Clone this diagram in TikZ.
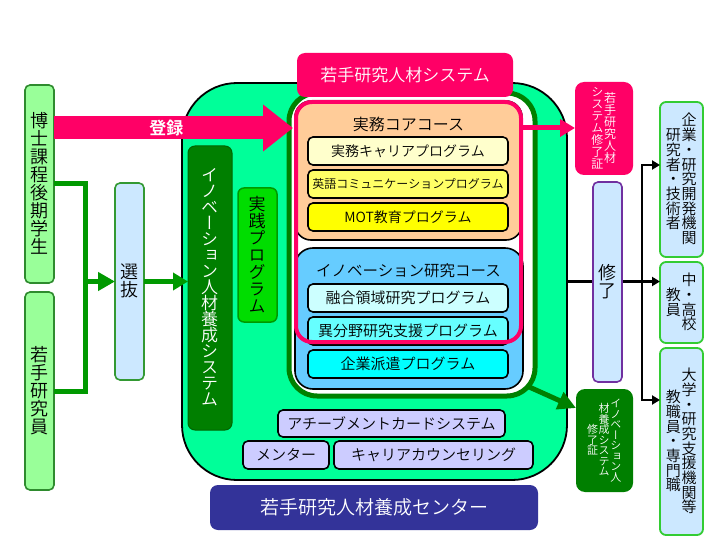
\documentclass[tikz,border=0pt]{standalone}
\usepackage{fontspec}
\IfFontExistsTF{Noto Sans CJK JP DemiLight}
  {\def\jpname{Noto Sans CJK JP DemiLight}}
  {\def\jpname{Noto Sans CJK JP}}
\setmainfont{\jpname}[BoldFont={Noto Sans CJK JP Bold}]
\newfontfamily\vjp[RawFeature=+vert]{\jpname}
\usetikzlibrary{arrows.meta, positioning}
\definecolor{MintG}{HTML}{00FF99}
\definecolor{DkG}{HTML}{007F00}
\definecolor{FrameG}{HTML}{008000}
\definecolor{LineG}{HTML}{009900}
\definecolor{PracG}{HTML}{00DD00}
\definecolor{Peach}{HTML}{FFCC99}
\definecolor{Cream}{HTML}{FFFFCC}
\definecolor{LemonA}{HTML}{FFFF66}
\definecolor{LemonB}{HTML}{FFFF00}
\definecolor{SkyB}{HTML}{66CCFF}
\definecolor{CyanA}{HTML}{CCFFFF}
\definecolor{CyanB}{HTML}{66FFFF}
\definecolor{CyanC}{HTML}{00FFFF}
\definecolor{Lav}{HTML}{CCCCFF}
\definecolor{Navy}{HTML}{333399}
\definecolor{Pink}{HTML}{FF0066}
\definecolor{PaleG}{HTML}{99FF99}
\definecolor{LeafG}{HTML}{2E8B2E}
\definecolor{IceB}{HTML}{CCE8FF}
\definecolor{SelG}{HTML}{339933}
\definecolor{OutG}{HTML}{33CC33}
\definecolor{Purp}{HTML}{7030A0}

% vertical text: columns right to left, one glyph per cell
\makeatletter
\newdimen\vt@p
\newtoks\vt@cols
\newcommand\vt@col[1]{\vcenter{\offinterlineskip
  \@tfor\vt@ch:=#1\do{\hbox to 1em{\hss\vrule height .86\vt@p depth .14\vt@p width\z@\smash{\vt@ch}\hss}}}}
\newcommand\vtxt[2][1em]{\vt@p=#1\relax\vt@cols{}%
  \@for\vt@c:=#2\do{%
    \edef\vt@tmp{\noexpand\vt@col{\unexpanded\expandafter{\vt@c}}\noexpand\kern.05em\the\vt@cols}%
    \vt@cols\expandafter{\vt@tmp}}%
  \hbox{\vjp$\the\vt@cols$}}
\makeatother

\begin{document}
\begin{tikzpicture}[
  x=1pt, y=-1pt,
  every node/.style={inner sep=0pt, outer sep=0pt},
  rbox/.style={draw=black, line width=1.6pt, rounded corners=5pt},
  progbox/.style={rbox, minimum width=200pt, minimum height=28pt, font=\fontsize{14}{16}\selectfont},
  subbox/.style={rbox, fill=Lav, minimum height=28pt, font=\fontsize{15}{17}\selectfont},
  stubox/.style={draw=LeafG, line width=1.6pt, fill=PaleG, rounded corners=5pt,
    minimum width=29pt, minimum height=198pt, font=\fontsize{18}{18}\selectfont},
  outbox/.style={draw=OutG, line width=1.8pt, fill=IceB, rounded corners=6pt,
    minimum width=43pt, font=\fontsize{15}{15}\selectfont},
  certbox/.style={rounded corners=9pt, text=white},
  gline/.style={draw=LineG, line width=5pt},
  garr/.style={gline, -{Triangle[length=17pt, width=18pt]}},
  barr/.style={line width=2.4pt, -{Triangle[length=8pt, width=9pt]}},
]
\path[use as bounding box, fill=white] (0,0) rectangle (720,540);

% training system frame
\node[draw=black, line width=1.8pt, fill=MintG, rounded corners=55pt,
  minimum width=385pt, minimum height=397pt] (mint) at (374.5,281.5) {};
\node[fill=DkG, draw=DkG!80!black, line width=1pt, rounded corners=7pt,
  minimum width=44pt, minimum height=284pt, text=white,
  font=\fontsize{17}{17}\selectfont] (isys) at (210,288) {\vtxt[16pt]{イノベーション人材養成システム}};
\node[fill=PracG, draw=LineG, line width=1.5pt, rounded corners=6pt,
  minimum width=39pt, minimum height=134pt,
  font=\fontsize{17}{17}\selectfont] (prac) at (257.5,255) {\vtxt[17pt]{実践プログラム}};
\node[draw=FrameG, line width=5pt, fill=white, rounded corners=28pt,
  minimum width=246pt, minimum height=303pt] (frame) at (412,244.5) {};

% core course
\node[rbox, rounded corners=16pt, fill=Peach, minimum width=227pt, minimum height=139pt] (core) at (408.5,170.5) {};
\node[font=\fontsize{16}{18}\selectfont] (coret) at (408.5,124) {実務コアコース};
\node[progbox, fill=Cream] (p1) at (408,151) {実務キャリアプログラム};
\node[progbox, fill=LemonA, below=5pt of p1, font=\fontsize{12}{14}\selectfont] (p2) {英語コミュニケーションプログラム};
\node[progbox, fill=LemonB, below=5pt of p2] (p3) {MOT教育プログラム};

% innovation course
\node[rbox, rounded corners=18pt, fill=SkyB, minimum width=228pt, minimum height=141pt] (innov) at (409,318.5) {};
\node[font=\fontsize{15.5}{18}\selectfont] (innovt) at (408.5,271) {イノベーション研究コース};
\node[progbox, fill=CyanA, font=\fontsize{15}{17}\selectfont] (q1) at (408,298) {融合領域研究プログラム};
\node[progbox, fill=CyanB, below=5pt of q1, font=\fontsize{15}{17}\selectfont] (q2) {異分野研究支援プログラム};
\node[progbox, fill=CyanC, below=5pt of q2, font=\fontsize{15}{17}\selectfont] (q3) {企業派遣プログラム};

\node[draw=Pink, line width=4pt, rounded corners=16pt, minimum width=225pt, minimum height=240pt] (wsys) at (408.5,222) {};

% support
\node[subbox, minimum width=227pt, minimum height=27pt] (ach) at (391.5,423.5) {アチーブメントカードシステム};
\node[subbox, minimum width=86pt] (mentor) at (286,455) {メンター};
\node[subbox, minimum width=199pt] (career) at (433.5,455) {キャリアカウンセリング};
\node[fill=Navy, rounded corners=8pt, minimum width=328pt, minimum height=45pt, text=white,
  font=\fontsize{19}{21}\selectfont] (ctr) at (374,507.5) {若手研究人材養成センター};
\node[fill=Pink, rounded corners=8pt, minimum width=216pt, minimum height=44pt, text=white,
  font=\fontsize{17}{19}\selectfont] (sys) at (405,75) {若手研究人材システム};

% entry side
\node[stubox] (phd) at (39.5,184) {\vtxt[18pt]{博士課程後期学生}};
\node[stubox] (young) at (39.5,391) {\vtxt[18pt]{若手研究員}};
\node[stubox, fill=IceB, draw=SelG, minimum height=197pt] (sel) at (129.5,281.5) {\vtxt[18pt]{選抜}};

\coordinate (jn) at (85,281.5);
\draw[gline] (phd.east) -| (jn) |- (young.east);
\draw[garr] (jn) -- (sel.west);
\draw[garr, -{Triangle[length=15pt, width=17pt]}] (sel.east) -- (sel.east -| isys.west);

\coordinate (reg) at (293,128);
\draw[draw=Pink, line width=23pt, -{Triangle[length=30pt, width=45pt]}] (phd.east |- reg) --
  node[pos=0.47, text=white, font=\fontsize{17}{19}\selectfont\bfseries] (regl) {登録} (reg);

% exit side
\node[certbox, fill=Pink, minimum width=58pt, minimum height=93pt,
  font=\fontsize{12}{12}\selectfont] (cert1) at (604,128.5) {\vtxt[12pt]{若手研究人材,システム修了証}};
\node[outbox, minimum height=155pt] (out1) at (681.5,179.5) {\vtxt[14.7pt]{企業・研究開発機関,研究者・技術者}};
\node[outbox, minimum height=81pt] (out2) at (681.5,302.5) {\vtxt[14.7pt]{中・高校,教員}};
\node[outbox, minimum height=187pt] (out3) at (681.5,441.5) {\vtxt[14.7pt]{大学・研究支援機関等,教職員・専門職}};
\node[certbox, fill=DkG, minimum width=57pt, minimum height=103pt,
  font=\fontsize{11}{11}\selectfont] (cert2) at (604.5,440.5) {\vtxt[10.5pt]{イノベーション人,材養成システム,修了証}};

\coordinate (bt) at (642,165);
\coordinate (bb) at (642,400);
\draw[line width=2.4pt, line cap=rect] (bt) -- (bb);
\draw[barr] (bt) -- (bt -| out1.west);
\draw[barr] (mint.east) -- (mint.east -| out2.west);
\draw[barr] (bb) -- (bb -| out3.west);

\node[stubox, fill=IceB, draw=Purp, minimum height=200pt] (fin) at (607.5,282) {\vtxt[18pt]{修了}};

\draw[draw=Pink, line width=5pt, -{Triangle[length=15pt, width=17pt]}] (wsys.east |- reg) -- (reg -| cert1.west);
\coordinate (fr) at (527,386);
\draw[draw=FrameG, line width=5pt, -{Triangle[length=18pt, width=18pt]}] (fr) -- ([yshift=-19pt]cert2.north west);

\end{tikzpicture}
\end{document}
